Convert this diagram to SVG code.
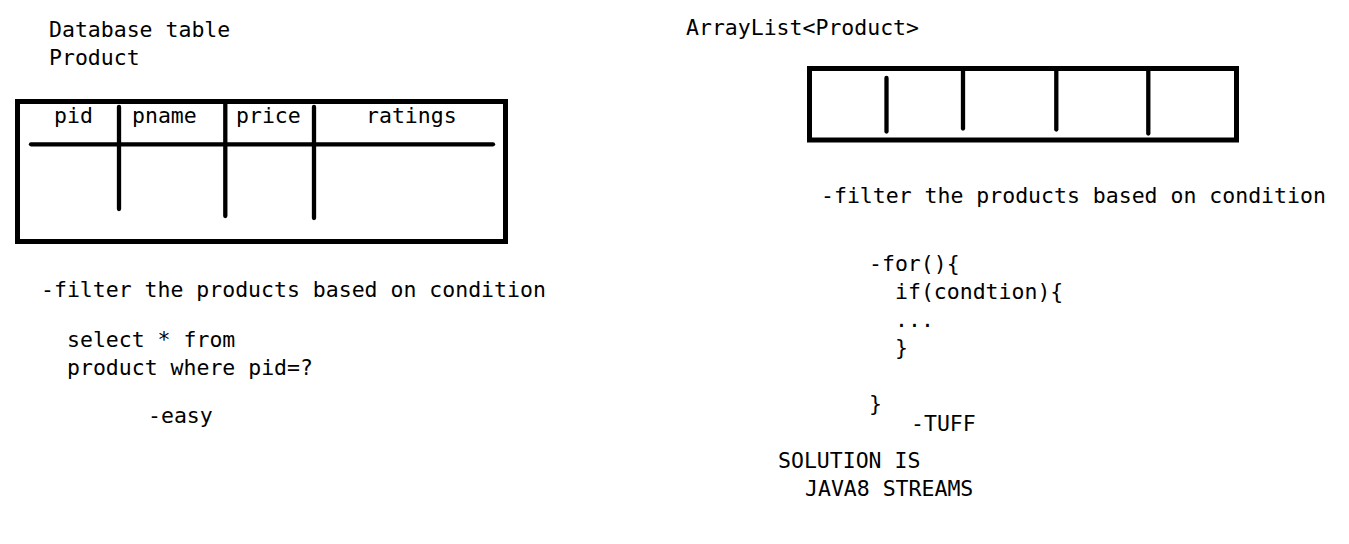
<svg xmlns="http://www.w3.org/2000/svg" width="1349" height="544" viewBox="0 0 1349 544">
<style>
text{font-family:"DejaVu Sans Mono","Liberation Mono",monospace;font-size:21.5px;fill:#000}
.box{fill:none;stroke:#000;stroke-width:5}
.ln{stroke:#000;stroke-width:4.3;stroke-linecap:round;fill:none}
</style>
<rect width="1349" height="544" fill="#fff"/>
<g id="db-title">
<text x="49" y="37">Database table</text>
<text x="49" y="65">Product</text>
</g>
<g id="db-table">
<rect class="box" x="17.5" y="101.5" width="488" height="140"/>
<line class="ln" x1="31" y1="144.3" x2="493" y2="144.3"/>
<line class="ln" x1="119" y1="107" x2="119" y2="209"/>
<line class="ln" x1="225.3" y1="104" x2="225.3" y2="216"/>
<line class="ln" x1="314" y1="107" x2="314" y2="218"/>
<text x="54" y="123">pid</text>
<text x="132" y="123">pname</text>
<text x="236" y="123">price</text>
<text x="366" y="123">ratings</text>
</g>
<g id="db-notes">
<text x="41" y="297">-filter the products based on condition</text>
<text x="67" y="347">select * from</text>
<text x="67" y="375">product where pid=?</text>
<text x="148" y="423">-easy</text>
</g>
<g id="list-title">
<text x="686" y="35">ArrayList&lt;Product&gt;</text>
</g>
<g id="list-box">
<rect class="box" x="809.5" y="68.5" width="427" height="71.5"/>
<line class="ln" x1="886.5" y1="78" x2="886.5" y2="131.5"/>
<line class="ln" x1="963" y1="70" x2="963" y2="128.5"/>
<line class="ln" x1="1056.3" y1="70" x2="1056.3" y2="129.5"/>
<line class="ln" x1="1148.3" y1="70" x2="1148.3" y2="133.5"/>
</g>
<g id="list-notes">
<text x="821" y="203">-filter the products based on condition</text>
<text x="869" y="271">-for(){</text>
<text x="895" y="299">if(condtion){</text>
<text x="895" y="327">...</text>
<text x="895" y="355">}</text>
<text x="869" y="411">}</text>
<text x="911" y="431">-TUFF</text>
<text x="778" y="468">SOLUTION IS</text>
<text x="805" y="496">JAVA8 STREAMS</text>
</g>
</svg>
